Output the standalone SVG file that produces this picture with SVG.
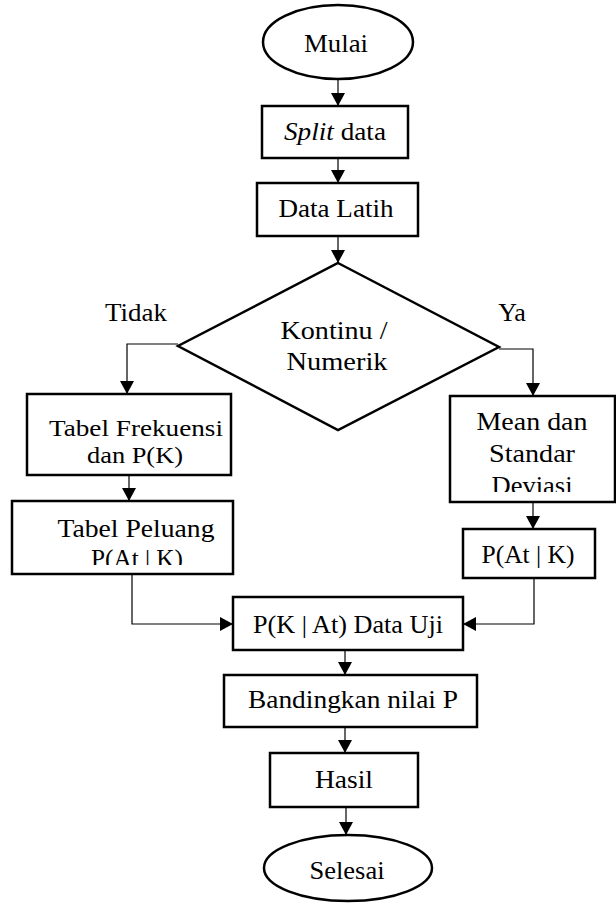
<svg xmlns="http://www.w3.org/2000/svg" width="616" height="907" viewBox="0 0 616 907">
<style>
.box{fill:#fff;stroke:#000;stroke-width:2.5}
.t{font-family:"Liberation Serif","Times New Roman",serif;font-size:26px;fill:#000;text-anchor:middle}
.s{font-size:24px}
.c{fill:none;stroke:#000;stroke-width:1.2}
</style>
<defs>
<marker id="ah" markerUnits="userSpaceOnUse" markerWidth="14" markerHeight="14" refX="13" refY="7" orient="auto">
<path d="M0,0 L13,7 L0,14 z" fill="#000"/>
</marker>
<clipPath id="cp1"><rect x="12" y="500" width="222" height="65"/></clipPath>
<clipPath id="cp2"><rect x="450" y="396" width="166" height="96"/></clipPath>
</defs>
<rect width="616" height="907" fill="#fff"/>
<g id="connectors">
<path class="c" d="M338,79 V106" marker-end="url(#ah)"/>
<path class="c" d="M338,158 V183" marker-end="url(#ah)"/>
<path class="c" d="M338,236 V263" marker-end="url(#ah)"/>
<path class="c" d="M178,344 H127 V394" marker-end="url(#ah)"/>
<path class="c" d="M499,349 H533 V396" marker-end="url(#ah)"/>
<path class="c" d="M129,475 V501" marker-end="url(#ah)"/>
<path class="c" d="M132,574 V624 H233" marker-end="url(#ah)"/>
<path class="c" d="M533,502 V529" marker-end="url(#ah)"/>
<path class="c" d="M534,578 V624 H463" marker-end="url(#ah)"/>
<path class="c" d="M345,650 V675" marker-end="url(#ah)"/>
<path class="c" d="M345,727 V753" marker-end="url(#ah)"/>
<path class="c" d="M346,807 V835" marker-end="url(#ah)"/>
</g>
<g id="mulai">
<ellipse class="box" cx="338" cy="42" rx="75" ry="37"/>
<text class="t" x="336" y="52" textLength="64" lengthAdjust="spacingAndGlyphs">Mulai</text>
</g>
<g id="split">
<rect class="box" x="262" y="106" width="146" height="52"/>
<text class="t" x="335" y="140" textLength="102" lengthAdjust="spacingAndGlyphs"><tspan font-style="italic">Split</tspan> data</text>
</g>
<g id="latih">
<rect class="box" x="257" y="183" width="161" height="53"/>
<text class="t" x="336" y="217" textLength="115" lengthAdjust="spacingAndGlyphs">Data Latih</text>
</g>
<g id="decision">
<polygon class="box" points="338,263 499,347 338,430 178,346"/>
<text class="t" x="334" y="339" textLength="107" lengthAdjust="spacingAndGlyphs">Kontinu /</text>
<text class="t" x="337" y="370" textLength="101" lengthAdjust="spacingAndGlyphs">Numerik</text>
</g>
<g id="labels">
<text class="t" x="136" y="321" textLength="62" lengthAdjust="spacingAndGlyphs">Tidak</text>
<text class="t" x="512" y="321">Ya</text>
</g>
<g id="frekuensi">
<rect class="box" x="27" y="394" width="204" height="81"/>
<text class="t s" x="136" y="436" textLength="174" lengthAdjust="spacingAndGlyphs">Tabel Frekuensi</text>
<text class="t s" x="135" y="463" textLength="96" lengthAdjust="spacingAndGlyphs">dan P(K)</text>
</g>
<g id="peluang">
<rect class="box" x="12" y="501" width="221" height="73"/>
<text class="t" x="136" y="537" textLength="157" lengthAdjust="spacingAndGlyphs">Tabel Peluang</text>
<text class="t" x="137" y="567" clip-path="url(#cp1)" textLength="92" lengthAdjust="spacingAndGlyphs">P(At | K)</text>
</g>
<g id="mean">
<rect class="box" x="450" y="396" width="165" height="106"/>
<text class="t" x="532" y="430" textLength="111" lengthAdjust="spacingAndGlyphs">Mean dan</text>
<text class="t" x="532" y="462" textLength="86" lengthAdjust="spacingAndGlyphs">Standar</text>
<text class="t" x="532" y="494" clip-path="url(#cp2)" textLength="81" lengthAdjust="spacingAndGlyphs">Deviasi</text>
</g>
<g id="patk">
<rect class="box" x="463" y="529" width="132" height="49"/>
<text class="t" x="528" y="563" textLength="93" lengthAdjust="spacingAndGlyphs">P(At | K)</text>
</g>
<g id="pkat">
<rect class="box" x="233" y="597" width="230" height="53"/>
<text class="t" x="348" y="633" textLength="190" lengthAdjust="spacingAndGlyphs">P(K | At) Data Uji</text>
</g>
<g id="bandingkan">
<rect class="box" x="224" y="675" width="253" height="52"/>
<text class="t" x="353" y="708" textLength="210" lengthAdjust="spacingAndGlyphs">Bandingkan nilai P</text>
</g>
<g id="hasil">
<rect class="box" x="270" y="753" width="148" height="54"/>
<text class="t" x="344" y="788" textLength="58" lengthAdjust="spacingAndGlyphs">Hasil</text>
</g>
<g id="selesai">
<ellipse class="box" cx="348" cy="868" rx="84" ry="33"/>
<text class="t" x="347" y="879" textLength="75" lengthAdjust="spacingAndGlyphs">Selesai</text>
</g>
</svg>
